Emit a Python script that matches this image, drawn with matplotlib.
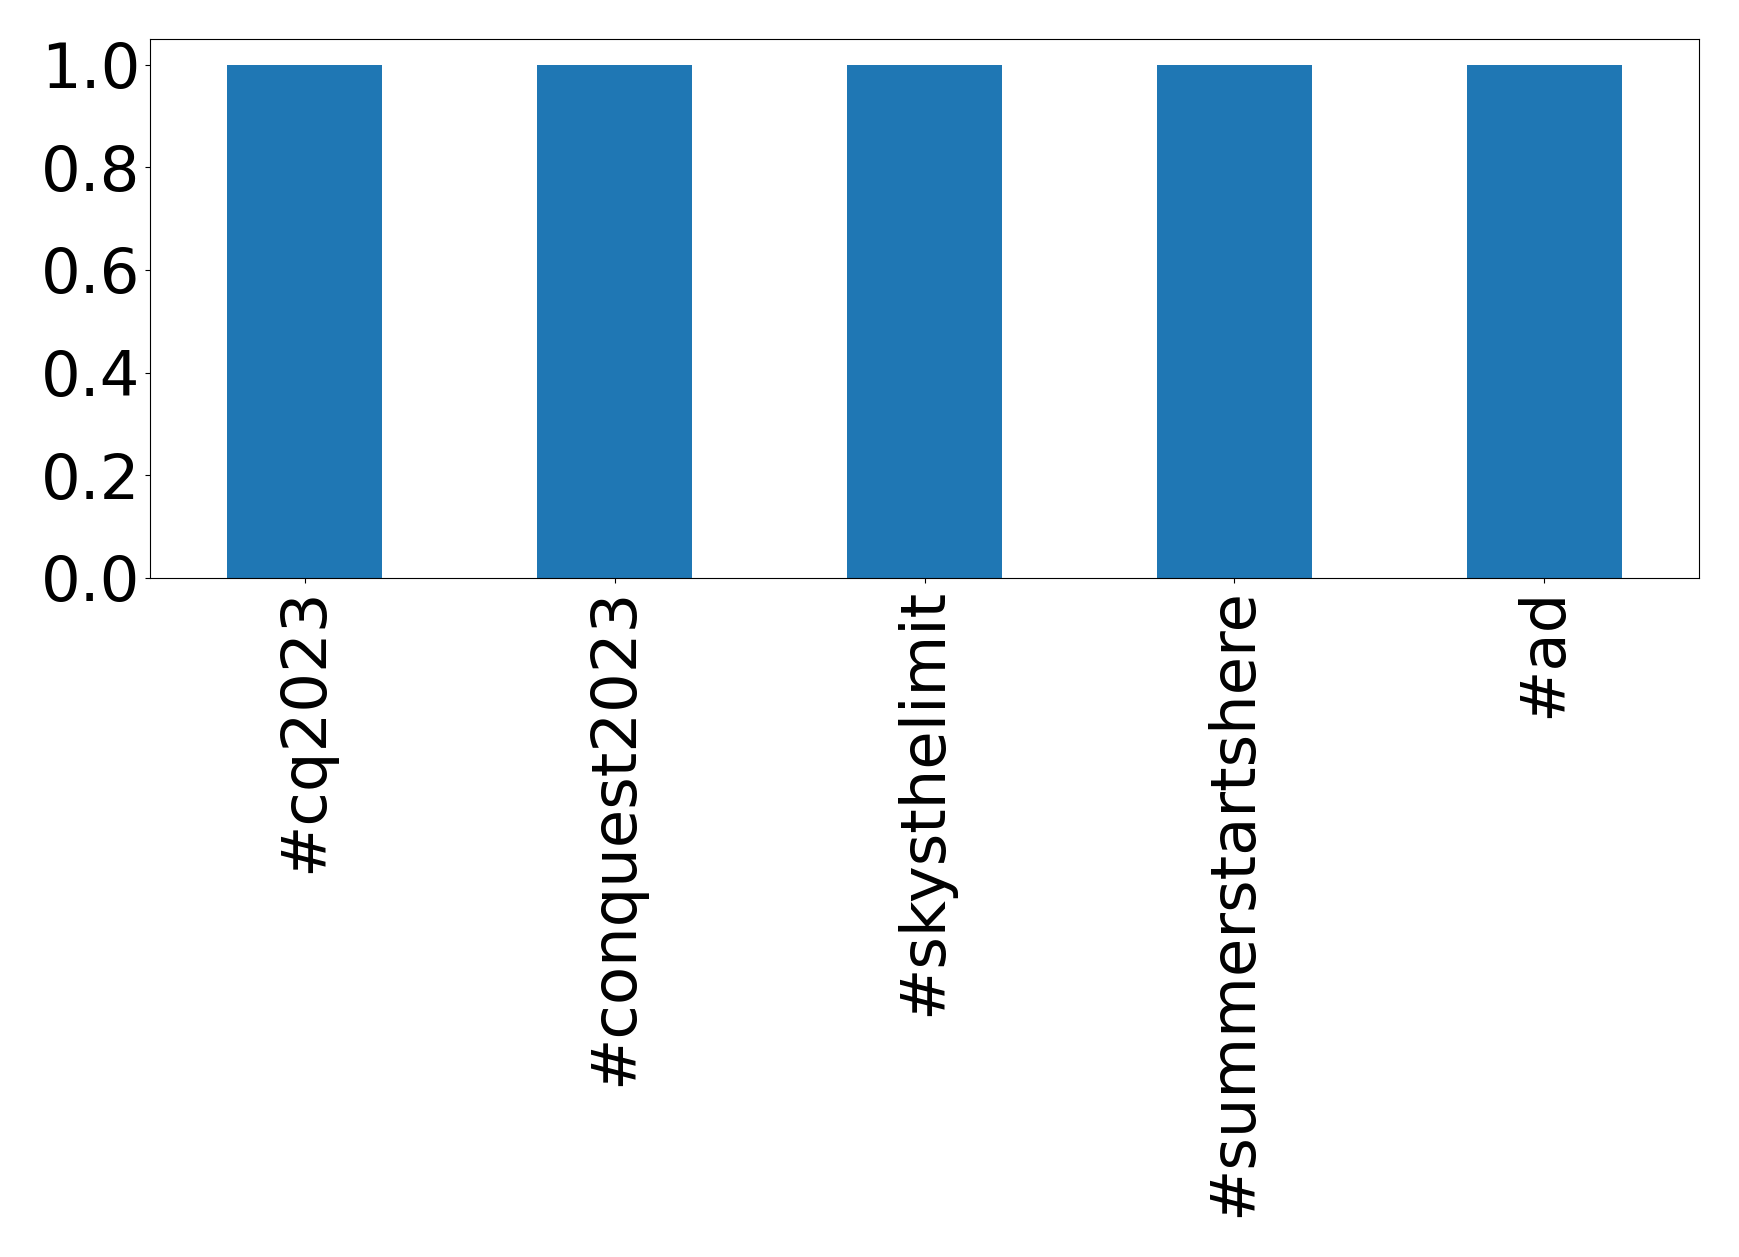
import matplotlib
matplotlib.use("Agg")
import matplotlib.pyplot as plt
import pandas as pd

categories = ["#cq2023", "#conquest2023", "#skysthelimit", "#summerstartshere", "#ad"]
counts = [1, 1, 1, 1, 1]
yticks = [0.0, 0.2, 0.4, 0.6, 0.8, 1.0]

fig = plt.figure(figsize=(17.39, 12.57), dpi=100)
ax = fig.add_axes([150/1739, 1-578/1257, (1699-150)/1739, (578-39)/1257])
s = pd.Series(counts, index=categories)
s.plot(kind="bar", ax=ax, color="#1f77b4", width=0.5)
ax.set_yticks(yticks)
ax.tick_params(axis="both", labelsize=45)
for lbl in ax.get_xticklabels():
    lbl.set_rotation(90)
fig.savefig("out.png", dpi=100)
